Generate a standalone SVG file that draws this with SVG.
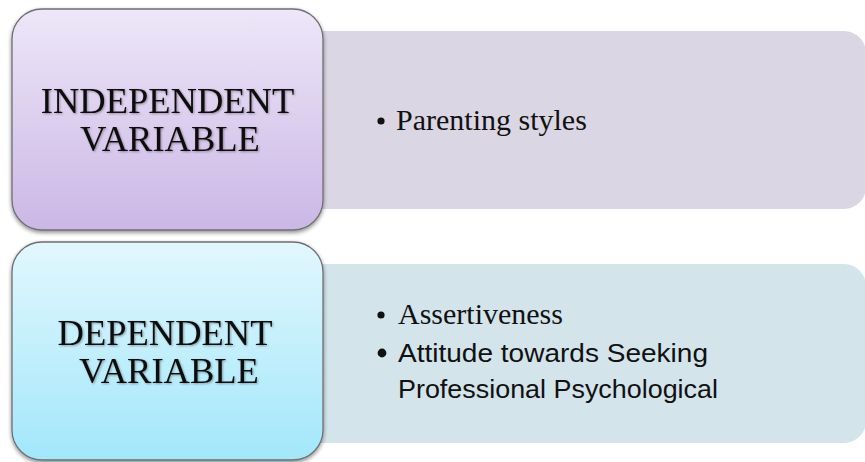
<svg xmlns="http://www.w3.org/2000/svg" width="865" height="462" viewBox="0 0 865 462">
  <defs>
    <linearGradient id="gradPurple" x1="0" y1="0" x2="0" y2="1">
      <stop offset="0" stop-color="#ede7f8"/>
      <stop offset="1" stop-color="#cbb7e5"/>
    </linearGradient>
    <linearGradient id="gradBlue" x1="0" y1="0" x2="0" y2="1">
      <stop offset="0" stop-color="#e2f7fd"/>
      <stop offset="1" stop-color="#a2e7fb"/>
    </linearGradient>
    <filter id="shadow" x="-10%" y="-10%" width="120%" height="125%">
      <feGaussianBlur in="SourceAlpha" stdDeviation="2"/>
      <feOffset dx="0" dy="2" result="blur"/>
      <feComponentTransfer><feFuncA type="linear" slope="0.45"/></feComponentTransfer>
      <feMerge><feMergeNode/><feMergeNode in="SourceGraphic"/></feMerge>
    </filter>
    <filter id="textShadow" x="-5%" y="-20%" width="110%" height="140%">
      <feGaussianBlur in="SourceAlpha" stdDeviation="0.8"/>
      <feOffset dx="0.8" dy="1" result="blur"/>
      <feComponentTransfer><feFuncA type="linear" slope="0.35"/></feComponentTransfer>
      <feMerge><feMergeNode/><feMergeNode in="SourceGraphic"/></feMerge>
    </filter>
  </defs>
  <style>
    .panel-top { fill: #dad6e3; }
    .panel-bottom { fill: #d3e4eb; }
    .head { stroke: #6f6f73; stroke-width: 1.3; }
    .title { font-family: "Liberation Serif", "Times New Roman", serif; font-size: 36.5px; fill: #111; text-anchor: middle; filter: url(#textShadow); }
    .serif-item { font-family: "Liberation Serif", "Times New Roman", serif; font-size: 30px; fill: #111; }
    .sans-item { font-family: "Liberation Sans", Arial, sans-serif; font-size: 26px; fill: #111; }
  </style>

  <rect width="865" height="462" fill="#ffffff"/>

  <!-- independent variable: detail panel -->
  <g id="independent-detail">
    <rect class="panel-top" x="300" y="31" width="566" height="178" rx="22"/>
    <circle cx="381" cy="121" r="3.6" fill="#111"/>
    <text class="serif-item" x="396" y="130">Parenting styles</text>
  </g>

  <!-- dependent variable: detail panel -->
  <g id="dependent-detail">
    <rect class="panel-bottom" x="300" y="264" width="566" height="179" rx="22"/>
    <circle cx="381" cy="315" r="3.6" fill="#111"/>
    <text class="serif-item" x="398" y="324">Assertiveness</text>
    <circle cx="382" cy="353" r="4.4" fill="#111"/>
    <text class="sans-item" x="398" y="362" textLength="310" lengthAdjust="spacingAndGlyphs">Attitude towards Seeking</text>
    <text class="sans-item" x="398" y="398" textLength="320" lengthAdjust="spacingAndGlyphs">Professional Psychological</text>
  </g>

  <!-- independent variable: heading box -->
  <g id="independent-head">
    <rect class="head" x="12" y="9" width="311" height="221" rx="30" fill="url(#gradPurple)" filter="url(#shadow)"/>
    <text class="title" x="167.5" y="113">INDEPENDENT</text>
    <text class="title" x="170" y="151">VARIABLE</text>
  </g>

  <!-- dependent variable: heading box -->
  <g id="dependent-head">
    <rect class="head" x="12" y="242" width="311" height="218" rx="30" fill="url(#gradBlue)" filter="url(#shadow)"/>
    <text class="title" x="165" y="345">DEPENDENT</text>
    <text class="title" x="169" y="383">VARIABLE</text>
  </g>

  <g id="connectors"/>
</svg>
